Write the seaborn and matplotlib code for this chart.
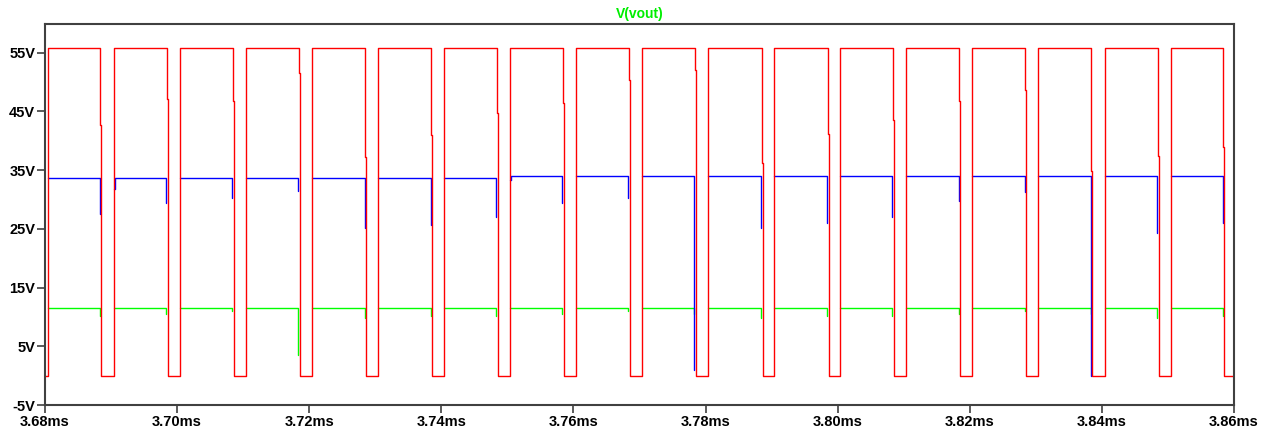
import numpy as np
import pandas as pd
import seaborn as sns
import matplotlib
matplotlib.use("Agg")
import matplotlib.pyplot as plt

# time origin of the window (ms) and edge times (us after origin)
t0_ms = 3.68
t_end_us = 180.0
rise_us = [0.5, 10.4, 20.4, 30.4, 40.4, 50.4, 60.4, 70.4, 80.4,
           90.4, 100.4, 110.4, 120.4, 130.4, 140.4, 150.4, 160.4, 170.4]
fall_us = [8.4, 18.4, 28.4, 38.4, 48.5, 58.5, 68.4, 78.4, 88.4,
           98.4, 108.5, 118.5, 128.4, 138.4, 148.4, 158.4, 168.5, 178.4]

# red trace (switch node)
red_high = 55.8
red_low = 0.0
red_step = [42.7, 47.2, 46.7, 51.5, 37.3, 41.0, 44.8, 46.5, 50.4,
            52.0, 36.3, 41.2, 43.6, 46.7, 48.6, 34.9, 37.4, 38.9]

# blue trace
blue_level = [33.7, 33.7, 33.7, 33.7, 33.7, 33.7, 33.7, 33.95, 33.95,
              33.95, 33.95, 33.95, 33.95, 33.95, 33.95, 33.95, 33.95, 33.95]
blue_start = [33.7, 31.8, 33.7, 33.7, 33.7, 33.7, 33.7, 33.4, 33.95,
              33.95, 33.95, 33.95, 33.95, 33.95, 33.95, 33.95, 33.95, 33.95]
blue_dip = [27.6, 29.4, 30.3, 31.5, 25.2, 25.7, 27.0, 29.4, 30.3,
            1.0, 25.2, 26.0, 27.0, 29.7, 31.2, 0.0, 24.3, 26.0]

# green trace V(vout)
green_level = [11.5] * 18
green_dip = [10.2, 10.5, 11.0, 3.5, 9.8, 10.2, 10.2, 10.5, 11.0,
             10.5, 9.8, 10.2, 10.2, 10.5, 11.0, 10.5, 9.8, 10.2]

LAG = 0.15   # us, second part of an edge sits one pixel to the right
LEAD = 0.1   # us, dips happen just before the red edge


def red_trace():
    t, v = [0.0], [red_low]
    for i in range(len(rise_us)):
        r, f = rise_us[i], fall_us[i]
        t += [r, r, f, f, f + LAG, f + LAG]
        v += [red_low, red_high, red_high, red_step[i], red_step[i], red_low]
    t.append(t_end_us)
    v.append(red_low)
    return pd.DataFrame({"t": t0_ms + np.array(t) / 1000.0, "v": v, "seg": 0})


def pulse_trace(levels, starts, dips):
    # one segment per on-period, the off-period is hidden behind the red trace
    rows = []
    for i in range(len(rise_us)):
        r, f = rise_us[i], fall_us[i]
        pts = [(r, starts[i]), (r + LAG, starts[i]), (r + LAG, levels[i]),
               (f - LEAD, levels[i]), (f - LEAD, dips[i])]
        for tt, vv in pts:
            rows.append({"t": t0_ms + tt / 1000.0, "v": vv, "seg": i})
    return pd.DataFrame(rows)


red_df = red_trace()
blue_df = pulse_trace(blue_level, blue_start, blue_dip)
green_df = pulse_trace(green_level, green_level, green_dip)

sns.set_theme(style="white")
plt.rcParams["font.family"] = ["Liberation Sans", "DejaVu Sans"]

fig = plt.figure(figsize=(12.7, 4.36), dpi=100)
ax = fig.add_axes([45 / 1270, 31 / 436, 1189 / 1270, 381 / 436])

sns.lineplot(data=green_df, x="t", y="v", units="seg", sort=False,
             estimator=None, color="#00ff00", lw=1.0, ax=ax)
sns.lineplot(data=blue_df, x="t", y="v", units="seg", sort=False,
             estimator=None, color="#0000ff", lw=1.0, ax=ax)
sns.lineplot(data=red_df, x="t", y="v", units="seg", sort=False,
             estimator=None, color="#ff0000", lw=1.0, ax=ax)

ax.set_xlim(3.68, 3.86)
ax.set_ylim(-5, 59.9)
xt = np.round(np.arange(3.68, 3.8601, 0.02), 2)
ax.set_xticks(xt)
ax.set_xticklabels([f"{x:.2f}ms" for x in xt])
yt = list(range(-5, 60, 10))
ax.set_yticks(yt)
ax.set_yticklabels([f"{y}V" for y in yt])
ax.set_xlabel("")
ax.set_ylabel("")

for sp in ax.spines.values():
    sp.set_color("#404040")
    sp.set_linewidth(1.5)
ax.tick_params(axis="both", direction="out", length=5.5, width=1.2,
               color="#404040", labelsize=10.5, pad=1.5,
               bottom=True, left=True, labelcolor="black")
for lab in ax.get_xticklabels() + ax.get_yticklabels():
    lab.set_fontweight("bold")

ax.set_title("V(vout)", color="#00ee00", fontsize=10, fontweight="bold", pad=4)
ax.grid(False)

fig.savefig("out.png", dpi=100)
